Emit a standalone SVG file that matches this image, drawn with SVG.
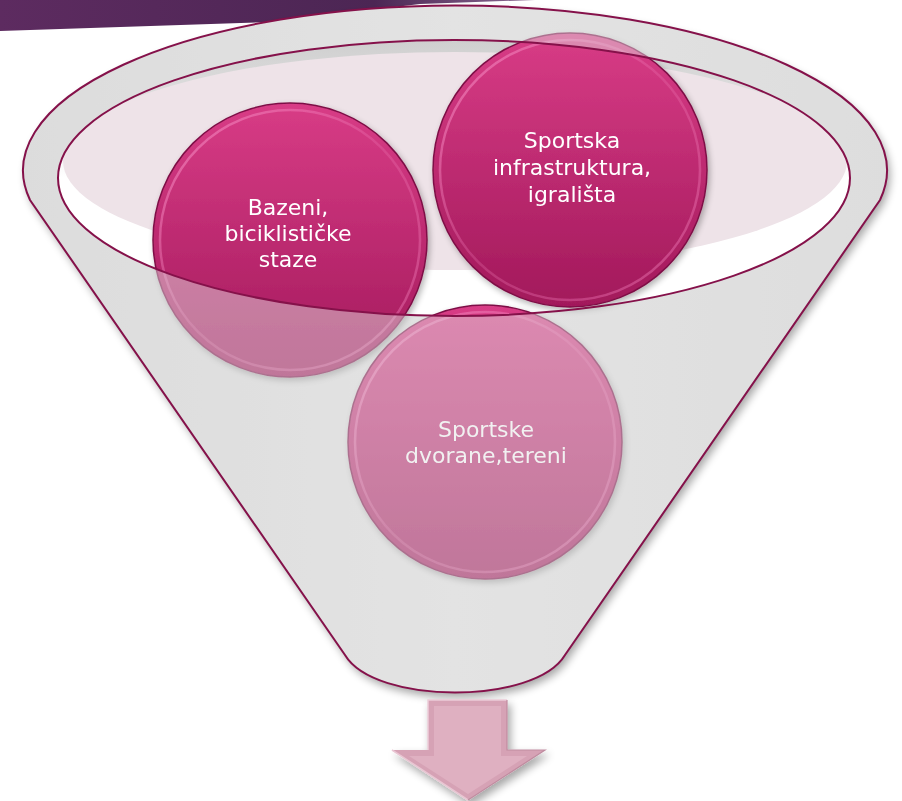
<svg xmlns="http://www.w3.org/2000/svg" width="902" height="801" viewBox="0 0 902 801">
<defs>
<style>
.lbl{font-family:"DejaVu Sans","Liberation Sans",sans-serif;font-size:22px;fill:#ffffff;text-anchor:middle}
.rimline{fill:none;stroke:#85114a;stroke-width:2}
.cedge{stroke:#7e1046;stroke-width:1.5}
.ring{fill:none;stroke:url(#ringGrad);stroke-width:2.5}
</style>
<linearGradient id="banner" x1="0" y1="0" x2="1" y2="0">
<stop offset="0" stop-color="#5d2b60"/>
<stop offset="0.7" stop-color="#4c2654"/>
<stop offset="1" stop-color="#8a6a92"/>
</linearGradient>
<linearGradient id="opening" x1="0" y1="0" x2="0" y2="1">
<stop offset="0" stop-color="#cfcfcf"/>
<stop offset="0.25" stop-color="#e2e2e2"/>
<stop offset="0.5" stop-color="#ffffff"/>
<stop offset="1" stop-color="#ffffff"/>
</linearGradient>
<linearGradient id="mag" x1="0" y1="0" x2="0" y2="1">
<stop offset="0" stop-color="#d83c86"/>
<stop offset="1" stop-color="#a2195b"/>
</linearGradient>
<linearGradient id="ringGrad" x1="0" y1="0" x2="1" y2="1">
<stop offset="0" stop-color="#f58cc2" stop-opacity="0.7"/>
<stop offset="0.5" stop-color="#f07ab8" stop-opacity="0.25"/>
<stop offset="1" stop-color="#f07ab8" stop-opacity="0.5"/>
</linearGradient>
<linearGradient id="band" x1="0" y1="0" x2="1" y2="0">
<stop offset="0" stop-color="#d8d8d8"/>
<stop offset="0.5" stop-color="#e4e4e4"/>
<stop offset="1" stop-color="#dadada"/>
</linearGradient>
<clipPath id="openClip">
<ellipse cx="454" cy="178" rx="396" ry="138"/>
</clipPath>
<filter id="shadow" x="-10%" y="-10%" width="120%" height="125%">
<feGaussianBlur in="SourceAlpha" stdDeviation="4"/>
<feOffset dx="3" dy="5" result="b"/>
<feComponentTransfer><feFuncA type="linear" slope="0.35"/></feComponentTransfer>
<feMerge><feMergeNode/><feMergeNode in="SourceGraphic"/></feMerge>
</filter>
<filter id="cshadow" x="-10%" y="-10%" width="125%" height="125%">
<feGaussianBlur in="SourceAlpha" stdDeviation="3"/>
<feOffset dx="2" dy="3"/>
<feComponentTransfer><feFuncA type="linear" slope="0.3"/></feComponentTransfer>
<feMerge><feMergeNode/><feMergeNode in="SourceGraphic"/></feMerge>
</filter>
</defs>

<rect width="902" height="801" fill="#ffffff"/>

<path id="banner-shape" d="M0,0 H535 L420,4 L270,22 L0,31 Z" fill="url(#banner)"/>

<g id="funnel-back">
<path d="M30,200 A432,165 0 1 1 880,200 L565,655 C535,705 375,705 345,655 Z" fill="url(#band)" filter="url(#shadow)"/>
<ellipse cx="454" cy="178" rx="396" ry="138" fill="url(#opening)"/>
<ellipse cx="455" cy="161" rx="392" ry="109" fill="#eee3e8" clip-path="url(#openClip)"/>
</g>

<g id="node-bazeni" filter="url(#cshadow)">
<circle cx="290" cy="240" r="137" fill="url(#mag)" class="cedge"/>
<circle cx="290" cy="240" r="130" class="ring"/>
<text class="lbl" x="288" y="215">Bazeni,</text>
<text class="lbl" x="288" y="241">biciklističke</text>
<text class="lbl" x="288" y="267">staze</text>
</g>

<g id="node-sportska" filter="url(#cshadow)">
<circle cx="570" cy="170" r="137" fill="url(#mag)" class="cedge"/>
<circle cx="570" cy="170" r="130" class="ring"/>
<text class="lbl" x="572" y="148">Sportska</text>
<text class="lbl" x="572" y="175">infrastruktura,</text>
<text class="lbl" x="572" y="202">igrališta</text>
</g>

<g id="node-dvorane" filter="url(#cshadow)">
<circle cx="485" cy="442" r="137" fill="url(#mag)" class="cedge"/>
<circle cx="485" cy="442" r="130" class="ring"/>
<text class="lbl" x="486" y="437">Sportske</text>
<text class="lbl" x="486" y="463">dvorane,tereni</text>
</g>

<g id="funnel-front">
<path d="M30,200 A432,165 0 1 1 880,200 L565,655 C535,705 375,705 345,655 Z M58,178 A396,138 0 1 0 850,178 A396,138 0 1 0 58,178 Z" fill="#e2e2e2" fill-opacity="0.47" fill-rule="evenodd"/>
<path class="rimline" d="M30,200 A432,165 0 1 1 880,200 L565,655 C535,705 375,705 345,655 Z"/>
<ellipse class="rimline" cx="454" cy="178" rx="396" ry="138"/>
</g>

<g id="connectors">
<g id="arrow" filter="url(#shadow)">
<polygon points="428,700 507,700 507,750 545,750 468,800 392,750 428,750" fill="#d6a2b5"/>
<polygon points="434,706 501,706 501,756 527,756 468,794 409,756 434,756" fill="#dfb0c1"/>
<polyline points="428,750 428,700 507,700" fill="none" stroke="#ecccd7" stroke-width="1.5"/>
<polyline points="392,750 468,800" fill="none" stroke="#e9c6d3" stroke-width="1.5"/>
<polyline points="507,700 507,750 545,750 468,800" fill="none" stroke="#c08ca0" stroke-width="1.2"/>
</g>
</g>
</svg>
